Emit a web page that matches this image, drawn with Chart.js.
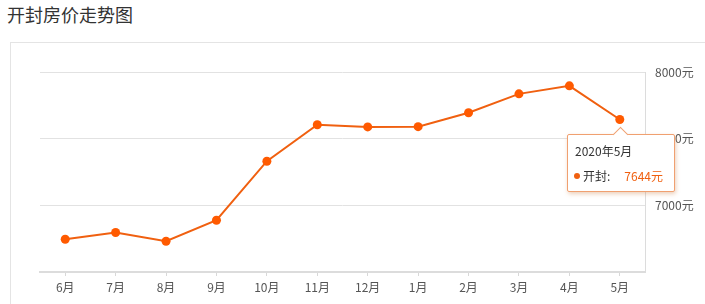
<!DOCTYPE html>
<html>
<head>
<meta charset="utf-8">
<script src="https://cdn.jsdelivr.net/npm/chart.js@4"></script>
<style>
  html, body { margin: 0; padding: 0; background: #fff; }
  body { width: 705px; height: 304px; position: relative; overflow: hidden;
         font-family: "Noto Sans CJK SC", "Noto Sans", sans-serif; }
  #title { position: absolute; left: 7px; top: 1px; font-size: 18px; color: #333; }
  #frame { position: absolute; left: 10px; top: 42px; width: 720px; height: 300px;
           border: 1px solid #e4e4e4; box-sizing: border-box; }
  #wrap { position: absolute; left: 0; top: 0; width: 705px; height: 304px; }
  #tip { position: absolute; width: 108px; height: 58px; box-sizing: border-box;
         background: #fff; border: 1px solid #f0a070; border-radius: 2px;
         box-shadow: 1px 2px 4px rgba(200,120,60,0.35); font-size: 12px; color: #333; }
  #tip .arrow { position: absolute; top: -6px; width: 10px; height: 10px; background: #fff;
                border-left: 1px solid #f0a070; border-top: 1px solid #f0a070; transform: rotate(45deg); }
  #tip .t { position: absolute; left: 7px; top: 7px; }
  #tip .b { position: absolute; left: 6px; top: 32px; white-space: nowrap; }
  #tip .dot { display: inline-block; width: 6px; height: 6px; border-radius: 3px;
              background: #f06010; margin-right: 3px; vertical-align: 2px; }
  #tip .v { color: #f06010; margin-left: 14px; }
</style>
</head>
<body>
<div id="title">开封房价走势图</div>
<div id="frame"></div>
<div id="wrap"><canvas id="c" width="705" height="304"></canvas></div>
<div id="tip"><div class="arrow"></div><div class="t"></div><div class="b"></div></div>
<script>
const months = ['6月', '7月', '8月', '9月', '10月', '11月', '12月', '1月', '2月', '3月', '4月', '5月']
const prices = [6746, 6796, 6731, 6888, 7331, 7604, 7588, 7590, 7694, 7836, 7896, 7644]
const yTicks = [6500, 7000, 7500, 8000]
const tipIndex = 11
const tipTitle = '2020年5月'
const seriesName = '开封'

const orange = '#f06010'

const placeTip = {
  id: 'placeTip',
  afterRender(chart) {
    const pt = chart.getDatasetMeta(0).data[tipIndex]
    const tip = document.getElementById('tip')
    tip.querySelector('.t').textContent = tipTitle
    tip.querySelector('.b').innerHTML =
      '<span class="dot"></span>' + seriesName + ':<span class="v">' + prices[tipIndex] + '元</span>'
    const left = Math.round(pt.x - 53)
    tip.style.left = left + 'px'
    tip.style.top = Math.round(pt.y + 15) + 'px'
    tip.querySelector('.arrow').style.left = Math.round(pt.x - left - 6) + 'px'
  }
}

new Chart(document.getElementById('c'), {
  type: 'line',
  data: {
    labels: months,
    datasets: [{
      data: prices,
      borderColor: orange,
      backgroundColor: orange,
      borderWidth: 2,
      pointRadius: 4.5,
      pointBackgroundColor: '#ff5a00',
      pointBorderWidth: 0,
      tension: 0
    }]
  },
  plugins: [placeTip],
  options: {
    responsive: false,
    animation: false,
    events: [],
    layout: { padding: { left: 40, top: 72, right: 0, bottom: 0 } },
    plugins: { legend: { display: false }, tooltip: { enabled: false } },
    scales: {
      x: {
        offset: true,
        grid: { display: true, offset: false, drawOnChartArea: false, drawTicks: true,
                tickLength: 4, color: '#d8d8d8' },
        border: { display: true, color: '#dcdcdc', width: 2 },
        ticks: { color: '#555', font: { size: 12, family: '"Noto Sans CJK SC", sans-serif' },
                 padding: 4, maxRotation: 0, autoSkip: false },
        afterFit(s) { s.height = 32 }
      },
      y: {
        position: 'right',
        min: yTicks[0],
        max: yTicks[yTicks.length - 1],
        afterBuildTicks(s) { s.ticks = yTicks.map(v => ({ value: v })) },
        grid: { color: '#e2e2e2', drawTicks: false },
        border: { display: true, color: '#dcdcdc', width: 1 },
        ticks: {
          color: '#555',
          font: { size: 12, family: '"Noto Sans CJK SC", sans-serif' },
          padding: 10,
          callback: v => v === yTicks[0] ? '' : v + '元'
        },
        afterFit(s) { s.width = 60 }
      }
    }
  }
})
</script>
</body>
</html>
